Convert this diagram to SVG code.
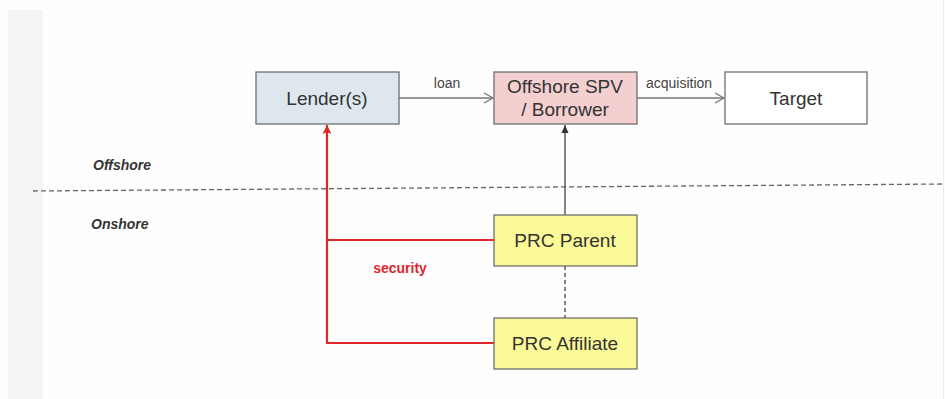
<svg xmlns="http://www.w3.org/2000/svg" width="945" height="399" viewBox="0 0 945 399">
<style>
.box{stroke:#6e6e6e;stroke-width:1.3}
.t{font-family:"Liberation Sans",Arial,sans-serif;font-size:19px;fill:#333;text-anchor:middle}
.lbl{font-family:"Liberation Sans",Arial,sans-serif;font-size:14px;fill:#444;text-anchor:middle}
.zone{font-family:"Liberation Sans",Arial,sans-serif;font-size:14px;font-weight:bold;font-style:italic;fill:#333}
.gray{stroke:#777;stroke-width:1.3;fill:none}
.red{stroke:#e0262b;stroke-width:2.2;fill:none}
</style>
<defs>
<marker id="open" markerWidth="12" markerHeight="12" refX="10" refY="6" orient="auto" markerUnits="userSpaceOnUse">
<path d="M1,1 L10,6 L1,11" fill="none" stroke="#777" stroke-width="1.3"/>
</marker>
<marker id="blk" markerWidth="10" markerHeight="10" refX="8" refY="5" orient="auto" markerUnits="userSpaceOnUse">
<path d="M0,1.5 L8,5 L0,8.5 Z" fill="#333"/>
</marker>
<marker id="redh" markerWidth="12" markerHeight="12" refX="9" refY="6" orient="auto" markerUnits="userSpaceOnUse">
<path d="M0,1.5 L9,6 L0,10.5 L2,6 Z" fill="#e0262b"/>
</marker>
</defs>
<rect width="945" height="399" fill="#fefefe"/>
<rect x="8" y="10" width="35" height="389" fill="#f5f5f5"/>
<line x1="943.5" y1="0" x2="943.5" y2="399" stroke="#ececec"/>
<line x1="33" y1="191" x2="945" y2="184" stroke="#666" stroke-width="1.3" stroke-dasharray="5,3"/>
<text class="zone" x="93" y="170">Offshore</text>
<text class="zone" x="91" y="229">Onshore</text>
<g id="connectors">
<line class="gray" x1="399" y1="98" x2="493" y2="98" marker-end="url(#open)"/>
<text class="lbl" x="447" y="88">loan</text>
<line class="gray" x1="637" y1="98" x2="724" y2="98" marker-end="url(#open)"/>
<text class="lbl" x="679" y="88">acquisition</text>
<line x1="565" y1="215" x2="565" y2="125" stroke="#333" stroke-width="1.2" marker-end="url(#blk)"/>
<line x1="565" y1="266" x2="565" y2="318" stroke="#333" stroke-width="1.2" stroke-dasharray="4,3"/>
<path class="red" d="M494,343 H327 V125" marker-end="url(#redh)"/>
<line class="red" x1="327" y1="240" x2="494" y2="240"/>
<text x="400" y="273" font-family="Liberation Sans,Arial,sans-serif" font-size="14" font-weight="bold" fill="#e0262b" text-anchor="middle">security</text>
</g>
<g id="lender">
<rect class="box" x="256" y="72" width="143" height="52" fill="#dfe7ee"/>
<text class="t" x="327" y="105">Lender(s)</text>
</g>
<g id="spv">
<rect class="box" x="494" y="72" width="143" height="52" fill="#f4cfcf"/>
<text class="t" x="565" y="93">Offshore SPV</text>
<text class="t" x="565" y="116">/ Borrower</text>
</g>
<g id="target">
<rect class="box" x="725" y="72" width="142" height="52" fill="#ffffff"/>
<text class="t" x="796" y="105">Target</text>
</g>
<g id="parent">
<rect class="box" x="494" y="215" width="143" height="51" fill="#fafa98"/>
<text class="t" x="565" y="247">PRC Parent</text>
</g>
<g id="affiliate">
<rect class="box" x="494" y="318" width="143" height="51" fill="#fafa98"/>
<text class="t" x="565" y="350">PRC Affiliate</text>
</g>
</svg>
